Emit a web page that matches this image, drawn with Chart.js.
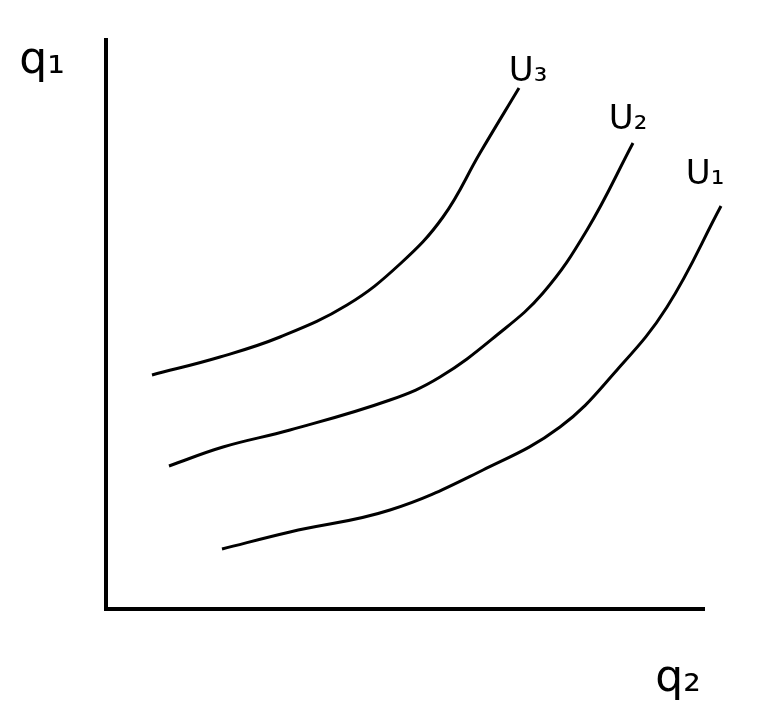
<!DOCTYPE html>
<html>
<head>
<meta charset="utf-8">
<script src="https://cdn.jsdelivr.net/npm/chart.js@4/dist/chart.umd.min.js"></script>
<style>
  html, body { margin: 0; padding: 0; background: #fff; }
  #wrap { width: 768px; height: 720px; }
</style>
</head>
<body>
<div id="wrap"><canvas id="utility" width="768" height="720"></canvas></div>
<script>
// indifference curves (x = q2, y = q1, in drawing units)
const u3X = [152, 220, 280, 347, 400, 443, 480, 519];
const u3Y = [375, 357, 337, 305, 264, 217, 153, 88];

const u2X = [169, 223, 290, 390, 440, 497, 543, 587, 633];
const u2Y = [466, 447, 430, 400, 377, 335, 293, 230, 143];

const u1X = [222, 290, 390, 483, 560, 617, 667, 721];
const u1Y = [549, 532, 510, 470, 427, 370, 307, 206];

// axes: q1 (vertical) and q2 (horizontal)
const axisX = [106, 106, 705];
const axisY = [38, 609, 609];

const curveLabels = ['U₃', 'U₂', 'U₁'];
const curveLabelX = [528, 628, 705];
const curveLabelY = [72, 120, 175];

const axisLabels = ['q₁', 'q₂'];
const axisLabelX = [42, 678];
const axisLabelY = [62, 680];

function pts(xs, ys) {
    return xs.map((x, i) => ({ x: x, y: ys[i] }));
}

function curve(label, xs, ys) {
    return {
        label: label,
        data: pts(xs, ys),
        borderColor: '#000',
        borderWidth: 3,
        pointRadius: 0,
        tension: 0.4,
        fill: false
    };
}

const labelPlugin = {
    id: 'handLabels',
    afterDatasetsDraw(chart) {
        const ctx = chart.ctx;
        const sx = chart.scales.x, sy = chart.scales.y;
        ctx.save();
        ctx.fillStyle = '#000';
        ctx.textAlign = 'center';
        ctx.textBaseline = 'middle';
        ctx.font = '34px "DejaVu Sans"';
        curveLabels.forEach((t, i) => {
            ctx.fillText(t, sx.getPixelForValue(curveLabelX[i]), sy.getPixelForValue(curveLabelY[i]));
        });
        ctx.font = '44px "DejaVu Sans"';
        axisLabels.forEach((t, i) => {
            ctx.fillText(t, sx.getPixelForValue(axisLabelX[i]), sy.getPixelForValue(axisLabelY[i]));
        });
        ctx.restore();
    }
};

new Chart('utility', {
    type: 'line',
    data: {
        datasets: [
            {
                label: 'axes',
                data: pts(axisX, axisY),
                borderColor: '#000',
                borderWidth: 4,
                pointRadius: 0,
                tension: 0,
                borderJoinStyle: 'miter',
                fill: false
            },
            curve('U3', u3X, u3Y),
            curve('U2', u2X, u2Y),
            curve('U1', u1X, u1Y)
        ]
    },
    options: {
        responsive: false,
        animation: false,
        layout: { padding: 0 },
        scales: {
            x: { type: 'linear', min: 0, max: 768, display: false },
            y: { type: 'linear', min: 0, max: 720, reverse: true, display: false }
        },
        plugins: {
            legend: { display: false },
            tooltip: { enabled: false }
        }
    },
    plugins: [labelPlugin]
});
</script>
</body>
</html>
